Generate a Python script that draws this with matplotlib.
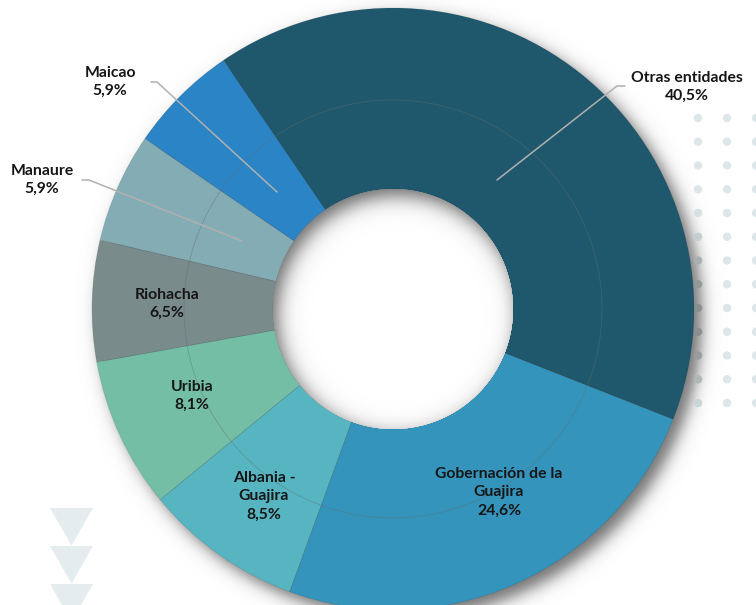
import numpy as np
import matplotlib
matplotlib.use("Agg")
import matplotlib.pyplot as plt
from matplotlib.patches import Circle, Polygon

# ---------------- data ----------------
labels = ["Otras entidades", "Maicao", "Manaure", "Riohacha", "Uribia",
          "Albania -\nGuajira", "Gobernación de la\nGuajira"]
values = [40.5, 5.9, 5.9, 6.5, 8.1, 8.5, 24.6]
colors = ["#1f586c", "#2a84c6", "#84acb5", "#798b8b", "#74bea6",
          "#56b5c0", "#3594bc"]

W, H = 756, 605
CX, CY_S = 393, 309          # centre in screen pixels
CY = H - CY_S                # centre in data coords (y up)
R_OUT, R_IN = 301, 120

fig = plt.figure(figsize=(W / 100, H / 100), dpi=100)
ax = fig.add_axes([0, 0, 1, 1])
ax.set_xlim(0, W)
ax.set_ylim(0, H)
ax.axis("off")


def logistic(t):
    return 1.0 / (1.0 + np.exp(-t))


def gray(level):
    g = float(np.clip(level, 0, 1))
    return (g, g, g)


# ---------------- outer drop shadow (opaque graded discs) ----------------
off_x, off_y, sig, a0 = 8, -8, 8.0, 0.55
def A_out(dd):
    return a0 * logistic(-1.7 * dd / sig)
for dk in np.arange(40, -12, -1.0):      # larger discs first
    ax.add_patch(Circle((CX + off_x, CY + off_y), R_OUT + dk,
                        facecolor=gray(1 - A_out(dk - 0.5)), lw=0, zorder=1))

# ---------------- decorations: dots & triangles ----------------
dot_rgb = np.array([0xdd, 0xe7, 0xe9]) / 255.0
dot_x = [698, 727, 756]
dot_rows = 13
for i in range(dot_rows):
    ys = H - (118 + i * 23.75)
    for xd in dot_x:
        dd = np.hypot(xd - (CX + off_x), ys - (CY + off_y)) - R_OUT
        shade = 1 - A_out(dd)
        ax.add_patch(Circle((xd, ys), 4.2, facecolor=tuple(dot_rgb * shade),
                            lw=0, zorder=2))

for top in [508, 546, 584]:
    ax.add_patch(Polygon([(50, H - top), (93, H - top), (71.5, H - top - 37.5)],
                         closed=True, facecolor="#e4ecee", lw=0, zorder=2))

# ---------------- donut ----------------
wedges, _ = ax.pie(values, colors=colors, startangle=-21.5, counterclock=True,
                   radius=R_OUT, center=(CX, CY),
                   wedgeprops=dict(width=R_OUT - R_IN, edgecolor="#00000018",
                                   linewidth=0.6))
for w in wedges:
    w.set_zorder(3)

# thin inner guide circle
ax.add_patch(Circle((CX, CY), 209, fill=False, ec="#5f6f72", lw=0.6,
                    alpha=0.45, zorder=4))

# ---------------- hole with inset shadow ----------------
# regions = (disc around shifted centre) ∩ (hole), drawn opaque, dark -> light
ioff = np.array([5.0, -7.0])
isig, ia0 = 10.0, 0.6
def A_in(rho):
    return ia0 * (1 - logistic(1.7 * (R_IN - rho) / isig))

theta = np.linspace(0, 2 * np.pi, 721)
ux, uy = np.cos(theta), np.sin(theta)
udo = ux * ioff[0] + uy * ioff[1]
oo = float(ioff @ ioff)

def region(rk):
    t = udo + np.sqrt(np.maximum(udo ** 2 - oo + rk ** 2, 0))
    r = np.minimum(R_IN, t)
    return np.column_stack([CX + r * ux, CY + r * uy])

max_rho = R_IN + np.sqrt(oo)
ax.add_patch(Circle((CX, CY), R_IN, facecolor=gray(1 - A_in(max_rho)),
                    lw=0, zorder=5))
for rk in np.arange(np.ceil(max_rho), R_IN - 55, -1.0):
    ax.add_patch(Polygon(region(rk), closed=True,
                         facecolor=gray(1 - A_in(rk - 0.5)), lw=0, zorder=6))

ax.set_xlim(0, W)
ax.set_ylim(0, H)

# ---------------- labels ----------------
def pct(v):
    return f"{v:.1f}".replace(".", ",") + "%"

font = dict(family=["Lato", "DejaVu Sans"], fontweight="bold", fontsize=11.3,
            color="#161616", ha="center", va="center", zorder=8,
            linespacing=1.4)

# label anchor positions (screen px)
label_pos = [(687, 87), (110, 82), (42, 180), (167, 304), (192, 396),
             (264, 496), (499, 492)]
for lab, v, (lx, ly) in zip(labels, values, label_pos):
    ax.text(lx, H - ly, f"{lab}\n{pct(v)}", **font)

# leader lines (screen px)
leaders = [
    [(497, 180), (617, 86), (625, 86)],
    [(277, 192), (157, 82), (151, 82)],
    [(242, 241), (89, 180), (82, 180)],
]
for pts in leaders:
    px = [p[0] for p in pts]
    py = [H - p[1] for p in pts]
    ax.plot(px, py, color="#b0b0b0", lw=1.1, zorder=7, solid_capstyle="round")

ax.set_xlim(0, W)
ax.set_ylim(0, H)
fig.savefig("out.png", dpi=100)
